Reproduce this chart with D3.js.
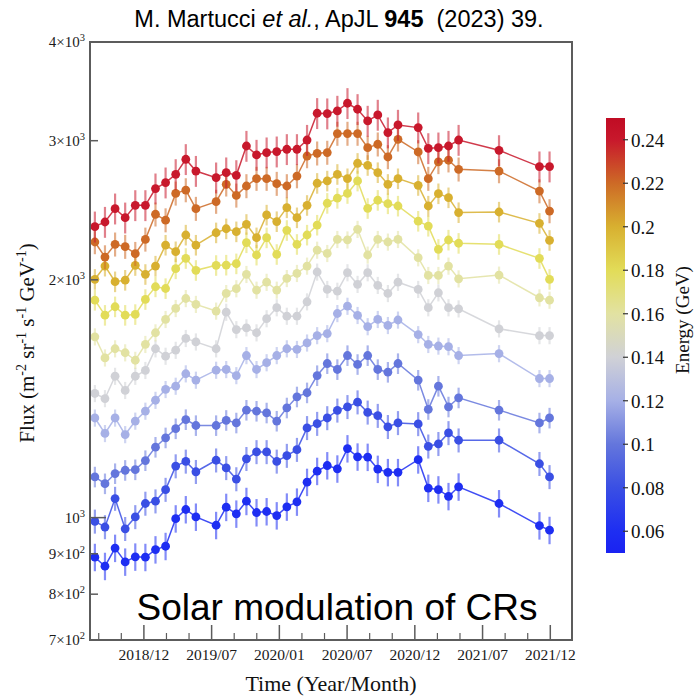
<!doctype html>
<html>
<head>
<meta charset="utf-8">
<title>Solar modulation of CRs</title>
<script src="https://cdnjs.cloudflare.com/ajax/libs/d3/7.8.5/d3.min.js"></script>
<style>
  body { margin: 0; background: #fff; }
  text { white-space: pre; }
</style>
</head>
<body>
<div id="chart"></div>
<script>
// dates of the points (27-day rotations, some are missing)
const dates = [
  "2018-07-23","2018-08-19","2018-09-15","2018-10-12","2018-11-08","2018-12-05","2019-01-01","2019-01-28","2019-02-24","2019-03-23","2019-04-19",
  "2019-06-12","2019-07-09","2019-08-05","2019-09-01","2019-09-28","2019-10-25","2019-11-21","2019-12-18","2020-01-14","2020-02-10",
  "2020-03-08","2020-04-04","2020-05-01","2020-05-28","2020-06-24","2020-07-21","2020-08-17","2020-09-13","2020-10-10",
  "2020-12-03","2020-12-30","2021-01-26","2021-02-22","2021-03-21",
  "2021-07-07","2021-10-23","2021-11-19"
];

// energy of each series (GeV)
const energies = [0.06, 0.08, 0.10, 0.12, 0.14, 0.16, 0.18, 0.20, 0.22, 0.24];

// flux values (m^-2 sr^-1 s^-1 GeV^-1)
const flux006 = [891, 868, 915, 879, 892, 891, 911, 920, 997, 1024, 1002,
  978, 1031, 1011, 1049, 1015, 1018, 1006, 1032, 1047, 1109, 1145, 1164, 1153, 1223, 1194, 1193, 1152, 1141, 1141,
  1184, 1090, 1085, 1064, 1094, 1042, 977, 964];
const flux008 = [989, 973, 1057, 968, 1002, 1042, 1049, 1085, 1162, 1178, 1143,
  1182, 1156, 1119, 1187, 1211, 1211, 1178, 1198, 1219, 1299, 1315, 1337, 1367, 1381, 1400, 1359, 1346, 1303, 1318,
  1314, 1231, 1240, 1280, 1253, 1253, 1170, 1126];
const flux010 = [1126, 1104, 1137, 1148, 1150, 1181, 1228, 1262, 1296, 1331, 1308,
  1308, 1328, 1318, 1368, 1364, 1357, 1325, 1377, 1422, 1439, 1513, 1567, 1540, 1604, 1563, 1604, 1540, 1528, 1567,
  1493, 1371, 1467, 1381, 1418, 1368, 1318, 1337];
const flux012 = [1337, 1278, 1337, 1274, 1325, 1364, 1408, 1453, 1467, 1521, 1493,
  1537, 1540, 1513, 1604, 1540, 1571, 1604, 1636, 1633, 1664, 1700, 1710, 1813, 1852, 1803, 1745, 1782, 1751, 1779,
  1705, 1657, 1649, 1646, 1604, 1613, 1500, 1500];
const flux014 = [1436, 1415, 1510, 1449, 1510, 1536, 1636, 1601, 1629, 1686, 1669,
  1636, 1820, 1730, 1739, 1714, 1786, 1844, 1799, 1799, 1876, 2046, 1945, 1935, 2042, 1974, 2042, 1968, 1922, 1986,
  1945, 1844, 1926, 1844, 1838, 1734, 1700, 1700];
const flux016 = [1694, 1593, 1636, 1617, 1582, 1657, 1714, 1782, 1840, 1894, 1862,
  1826, 1922, 1949, 2032, 1941, 1986, 1941, 2008, 2038, 2082, 2181, 2160, 2250, 2247, 2317, 2150, 2250, 2233, 2250,
  2133, 2026, 2026, 2082, 2006, 2028, 1898, 1885];
const flux018 = [1885, 1804, 1849, 1804, 1808, 1889, 1960, 1950, 2066, 2129, 2056,
  2086, 2088, 2096, 2229, 2150, 2261, 2154, 2310, 2218, 2279, 2346, 2500, 2537, 2573, 2668, 2463, 2522, 2497, 2480,
  2373, 2339, 2186, 2246, 2225, 2218, 2129, 2003];
const flux020 = [2003, 2082, 1989, 1998, 2086, 2032, 2082, 2213, 2171, 2279, 2213,
  2294, 2321, 2301, 2351, 2261, 2416, 2370, 2468, 2397, 2485, 2650, 2668, 2720, 2686, 2809, 2792, 2734, 2642, 2686,
  2634, 2480, 2571, 2541, 2433, 2437, 2358, 2244];
const flux022 = [2233, 2137, 2218, 2203, 2158, 2250, 2421, 2380, 2573, 2598, 2461,
  2512, 2642, 2558, 2629, 2686, 2686, 2647, 2629, 2706, 2869, 2892, 2898, 3063, 3063, 3063, 2940, 2969, 2861, 3012,
  2903, 2686, 2820, 2834, 2760, 2746, 2590, 2444];
const flux024 = [2335, 2367, 2461, 2397, 2485, 2485, 2609, 2655, 2720, 2842, 2746,
  2694, 2734, 2712, 2954, 2878, 2898, 2906, 2926, 2926, 3006, 3250, 3247, 3272, 3346, 3288, 3178, 3234, 3072, 3141,
  3117, 2934, 2940, 2954, 3006, 2917, 2782, 2782];

// relative error of each series
const relErr = [0.04, 0.035, 0.03, 0.025, 0.025, 0.025, 0.03, 0.03, 0.035, 0.045];

// axis ticks
const xTickDates = ["2018-12-01","2019-05-31","2019-11-28","2020-05-27","2020-11-24","2021-05-24","2021-11-21"];
const xTickLabels = ["2018/12","2019/07","2020/01","2020/07","2020/12","2021/07","2021/12"];
const yTicks = [700, 800, 900, 1000, 2000, 3000, 4000];
const yTickBase = ["7×10","8×10","9×10","10","2×10","3×10","4×10"];
const yTickExp = ["2","2","2","3","3","3","3"];
const cbTicks = [0.06, 0.08, 0.1, 0.12, 0.14, 0.16, 0.18, 0.2, 0.22, 0.24];

// colour map of the energy bar
const stopEnergy = [0.05, 0.06, 0.08, 0.10, 0.12, 0.14, 0.16, 0.18, 0.20, 0.22, 0.24, 0.25];
const stopColor = ["#1a22f2","#1e2ef2","#3a4fe4","#6476dc","#a6b0e6","#d0d1d6","#e2e2a2","#e2dc58","#d8b030","#cd6a26","#c8182c","#c00c24"];

const fluxes = [flux006, flux008, flux010, flux012, flux014, flux016, flux018, flux020, flux022, flux024];

const W = 697, H = 697;
const margin = {left: 90, right: 125, top: 42, bottom: 57};
const parse = d3.utcParse("%Y-%m-%d");

const svg = d3.select("#chart").append("svg")
  .attr("width", W).attr("height", H)
  .style("font-family", "'Liberation Serif', 'DejaVu Serif', serif");

const x = d3.scaleUtc()
  .domain([parse("2018-07-10"), parse("2022-01-18")])
  .range([margin.left, W - margin.right]);
const y = d3.scaleLog()
  .domain([700, 4000])
  .range([H - margin.bottom, margin.top]);
const color = d3.scaleLinear().domain(stopEnergy).range(stopColor);

const x0 = x.range()[0], x1 = x.range()[1];
const y0 = y.range()[0], y1 = y.range()[1];

// series
const series = energies.map((e, i) => ({
  e: e,
  err: relErr[i],
  pts: dates.map((d, j) => ({t: parse(d), v: fluxes[i][j]}))
}));

const gData = svg.append("g");
series.forEach(s => {
  const c = color(s.e);
  const g = gData.append("g");
  g.selectAll("line.err").data(s.pts).join("line")
    .attr("class", "err")
    .attr("x1", d => x(d.t)).attr("x2", d => x(d.t))
    .attr("y1", d => y(d.v * (1 - s.err))).attr("y2", d => y(d.v * (1 + s.err)))
    .attr("stroke", c).attr("stroke-width", 2.2).attr("stroke-opacity", 0.55);
  g.append("path").datum(s.pts)
    .attr("d", d3.line().x(d => x(d.t)).y(d => y(d.v)))
    .attr("fill", "none").attr("stroke", c).attr("stroke-width", 1.5).attr("stroke-opacity", 0.85);
  g.selectAll("circle").data(s.pts).join("circle")
    .attr("cx", d => x(d.t)).attr("cy", d => y(d.v)).attr("r", 4.4)
    .attr("fill", c);
});

// frame
const axisColor = "#5c5c5c";
svg.append("rect")
  .attr("x", x0).attr("y", y1).attr("width", x1 - x0).attr("height", y0 - y1)
  .attr("fill", "none").attr("stroke", axisColor).attr("stroke-width", 2);

// x ticks
const majors = xTickDates.map(parse);
const minors = [];
const step = majors[1] - majors[0];
for (let t = +majors[0] - step / 3 * 2; t < +x.domain()[1]; t += step / 3) {
  if (t > +x.domain()[0] && !majors.some(m => Math.abs(+m - t) < 86400000)) minors.push(new Date(t));
}
svg.append("g").selectAll("line").data(majors).join("line")
  .attr("x1", d => x(d)).attr("x2", d => x(d))
  .attr("y1", y0).attr("y2", y0 - 15)
  .attr("stroke", axisColor).attr("stroke-width", 1.5);
svg.append("g").selectAll("line").data(minors).join("line")
  .attr("x1", d => x(d)).attr("x2", d => x(d))
  .attr("y1", y0).attr("y2", y0 - 7)
  .attr("stroke", axisColor).attr("stroke-width", 1.2);
svg.append("g").selectAll("text").data(majors).join("text")
  .attr("x", d => x(d)).attr("y", y0 + 20)
  .attr("text-anchor", "middle")
  .style("font-size", "15.5px").attr("fill", "#1a1a1a")
  .text((d, i) => xTickLabels[i]);

// y ticks
svg.append("g").selectAll("line").data(yTicks).join("line")
  .attr("x1", x0).attr("x2", d => x0 + (d === 1000 ? 16 : 8))
  .attr("y1", d => y(d)).attr("y2", d => y(d))
  .attr("stroke", axisColor).attr("stroke-width", 1.5);
const yl = svg.append("g").selectAll("text").data(yTicks).join("text")
  .attr("x", x0 - 5).attr("y", d => y(d) + 5)
  .attr("text-anchor", "end")
  .style("font-size", "15px").attr("fill", "#1a1a1a");
yl.append("tspan").text((d, i) => yTickBase[i]);
yl.append("tspan").attr("dy", -6).style("font-size", "10.5px").text((d, i) => yTickExp[i]);

// axis titles
const yt = svg.append("text")
  .attr("transform", `translate(34,${(y0 + y1) / 2 + 2}) rotate(-90)`)
  .attr("text-anchor", "middle")
  .style("font-size", "21px").attr("fill", "#111");
[["Flux (m", ""], ["-2", "s"], [" sr", ""], ["-1", "s"], [" s", ""], ["-1", "s"], [" GeV", ""], ["-1", "s"], [")", ""]]
  .forEach((p, i, arr) => {
    const prevSup = i > 0 && arr[i - 1][1] === "s";
    const ts = yt.append("tspan").text(p[0]);
    if (p[1] === "s") ts.attr("dy", -8).style("font-size", "14px");
    else if (prevSup) ts.attr("dy", 8);
  });

svg.append("text")
  .attr("x", (x0 + x1) / 2).attr("y", 691)
  .attr("text-anchor", "middle")
  .style("font-size", "22px").attr("fill", "#111")
  .text("Time (Year/Month)");

// header and big caption
const title = svg.append("text")
  .attr("x", 339).attr("y", 27)
  .attr("text-anchor", "middle")
  .style("font-family", "'Liberation Sans', Arial, sans-serif")
  .style("font-size", "23.5px").attr("fill", "#000");
title.append("tspan").text("M. Martucci ");
title.append("tspan").style("font-style", "italic").text("et al.");
title.append("tspan").text(", ApJL ");
title.append("tspan").style("font-weight", "bold").text("945");
title.append("tspan").text("  (2023) 39.");

svg.append("text")
  .attr("x", 337).attr("y", 620)
  .attr("text-anchor", "middle")
  .style("font-family", "'Liberation Sans', Arial, sans-serif")
  .style("font-size", "37px").attr("fill", "#000")
  .text("Solar modulation of CRs");

// colour bar
const cb = d3.scaleLinear().domain([0.05, 0.25]).range([553, 118]);
const grad = svg.append("defs").append("linearGradient")
  .attr("id", "cbGrad").attr("x1", 0).attr("y1", 1).attr("x2", 0).attr("y2", 0);
grad.selectAll("stop").data(stopEnergy).join("stop")
  .attr("offset", d => (d - 0.05) / 0.2)
  .attr("stop-color", d => color(d));
svg.append("rect")
  .attr("x", 606).attr("y", cb(0.25)).attr("width", 19).attr("height", cb(0.05) - cb(0.25))
  .attr("fill", "url(#cbGrad)");
svg.append("g").selectAll("line").data(cbTicks).join("line")
  .attr("x1", 623).attr("x2", 628)
  .attr("y1", d => cb(d)).attr("y2", d => cb(d))
  .attr("stroke", "#333").attr("stroke-width", 1.2);
svg.append("g").selectAll("text").data(cbTicks).join("text")
  .attr("x", 631).attr("y", d => cb(d) + 7)
  .style("font-size", "19px").attr("fill", "#111")
  .text(d => d3.format("~g")(d));
svg.append("text")
  .attr("transform", "translate(689,320) rotate(-90)")
  .attr("text-anchor", "middle")
  .style("font-size", "19px").attr("fill", "#111")
  .text("Energy (GeV)");
</script>
</body>
</html>
